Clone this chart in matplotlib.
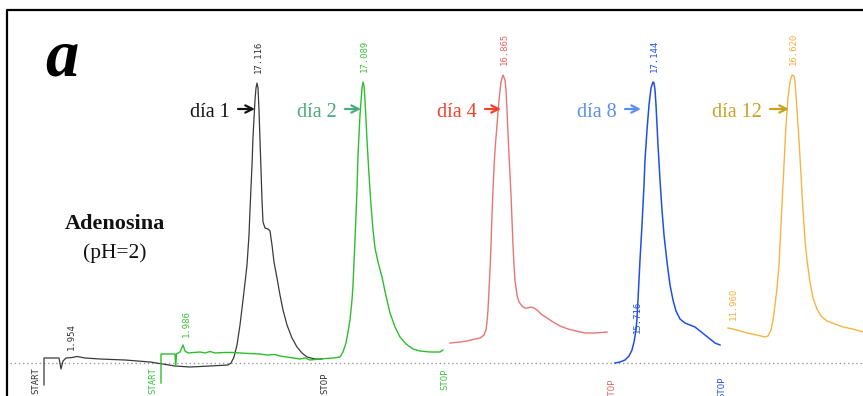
import matplotlib.pyplot as plt
from matplotlib.lines import Line2D

# ============================================================
# Cromatogramas de adenosina (pH=2) a distintos días
# ============================================================

W, H = 863, 396
BASE = 363          # fila (px) de la línea base punteada

# ------------------------------------------------------------
# Datos leídos del registro (x = avance del papel, y = señal)
# ------------------------------------------------------------
dia1_x = [44, 44, 59, 61, 63, 66, 72, 77, 85, 100, 125, 150, 175, 190, 210,
          228, 231, 234, 237, 240, 243, 245, 247, 249, 250, 252, 253, 255, 256,
          257, 258, 259, 260, 261, 262, 263, 265, 268, 270, 272, 274, 277, 280,
          283, 287, 292, 297, 302, 307, 315, 322]
dia1_y = [-22, 5, 5, -6, 2, 5, 5.5, 6.5, 5, 4, 3, 1, -3, -4, -3,
          -2, 0, 6, 18, 38, 63, 80, 98, 128, 153, 198, 226, 263, 275,
          280, 275, 253, 223, 193, 163, 141, 135, 134, 132, 118, 101, 85, 68,
          53, 38, 25, 16, 10, 6, 4, 4]

dia2_x = [161, 161, 175, 175.7, 176.5, 180, 183, 185, 188, 200, 205, 210, 215,
          225, 233, 240, 250, 260, 267, 275, 280, 290, 300, 305, 310, 320, 333,
          340, 343, 346, 348, 350, 352, 353, 355, 357, 358, 360, 362, 363, 364,
          365, 366, 367, 369, 371, 373, 375, 378, 382, 386, 390, 395, 400, 406,
          413, 420, 430, 440, 443]
dia2_y = [-20, 9, 9, -3, 9, 11, 18, 12, 10, 11, 10, 11.5, 10,
          10.5, 10.5, 10, 9.5, 9, 8, 8.5, 7, 5.5, 4, 5, 3, 4, 5,
          6, 11, 20, 31, 43, 63, 78, 123, 173, 208, 248, 275, 281, 277,
          263, 243, 223, 188, 158, 133, 115, 101, 86, 67, 50, 36, 26, 19,
          14, 12, 11, 11, 13]

dia4_x = [450, 460, 467, 475, 480, 484, 486, 487, 488, 489, 490, 491, 492, 493,
          494, 495, 497, 499, 501, 503, 505, 506, 507, 508, 509, 510, 511, 512,
          513, 514, 515, 517, 519, 522, 525, 528, 531, 534, 537, 541, 547, 553,
          560, 568, 576, 585, 595, 607]
dia4_y = [20, 21, 22, 24, 25, 28, 33, 41, 53, 73, 93, 118, 148, 173,
          195, 213, 238, 263, 281, 288, 283, 273, 253, 230, 208, 188, 168, 143,
          118, 98, 83, 68, 61, 57, 55, 55, 56, 55, 53, 49, 45, 41,
          37, 34, 32, 30, 30, 31]

dia8_x = [615, 620, 625, 629, 632, 634, 636, 637, 638, 639, 640, 642, 644, 645,
          647, 649, 651, 653, 654, 655, 656, 657, 658, 660, 662, 664, 667, 670,
          673, 676, 680, 685, 690, 695, 700, 705, 710, 715, 720]
dia8_y = [0, 1, 3, 7, 13, 21, 33, 45, 63, 83, 103, 138, 178, 203,
          233, 258, 275, 281, 280, 273, 258, 238, 218, 183, 153, 128, 101, 78,
          63, 52, 44, 40, 38, 36, 32, 28, 24, 20, 18]

dia12_x = [728, 737, 747, 757, 765, 768, 771, 773, 775, 777, 779, 780, 782, 784,
           786, 788, 790, 792, 794, 795, 796, 797, 799, 801, 803, 805, 807, 810,
           813, 817, 821, 827, 835, 843, 853, 863]
dia12_y = [35, 33, 30, 28, 26, 27, 33, 43, 58, 75, 98, 118, 158, 198,
           238, 265, 281, 288, 287, 281, 268, 253, 223, 188, 153, 123, 103, 81,
           65, 54, 47, 42, 39, 36, 34, 31]

dias = ["día 1", "día 2", "día 4", "día 8", "día 12"]
tiempos_pico = ["17.116", "17.089", "16.865", "17.144", "16.620"]

col_linea = ["#3a3a3a", "#2cbf2c", "#ea7474", "#1f4fe8", "#f5b445"]
col_etiq = ["#333333", "#3cc23c", "#e86464", "#2452e0", "#f0b040"]
col_texto = ["#141414", "#4caa7e", "#f0422c", "#5b8ef0", "#c9a226"]

# otras marcas del integrador: (texto, x, fila inferior, color)
marcas = [("1.954", 71, 350, col_etiq[0]),
          ("1.986", 186, 337, col_etiq[1]),
          ("15.716", 637, 333, col_etiq[3]),
          ("11.960", 733, 320, col_etiq[4])]
# START / STOP: (texto, x, fila superior, color)
start_stop = [("START", 36, 367, col_etiq[0]),
              ("START", 153, 367, col_etiq[1]),
              ("STOP", 325, 373, col_etiq[0]),
              ("STOP", 445, 368, col_etiq[1]),
              ("STOP", 612, 379, col_etiq[2]),
              ("STOP", 722, 377, col_etiq[3])]

# posición de cada rótulo "día n" (x inicio texto, x inicio flecha, x punta)
pos_dias = [(190, 238, 255), (297, 345, 361), (437, 485, 501),
            (577, 625, 641), (712, 770, 789)]


def fila(y):
    # fila de pixel -> unidades de señal
    return BASE - y


fig = plt.figure(figsize=(W / 100, H / 100), dpi=100)
ax = fig.add_axes([0, 0, 1, 1])
ax.set_xlim(0, W)
ax.set_ylim(BASE - H, BASE)
ax.axis("off")

# línea base punteada
ax.axhline(0, xmin=10 / W, xmax=1, color="#9a9a9a", lw=1.0, ls=(0, (1, 2)))

trazas = [(dia1_x, dia1_y), (dia2_x, dia2_y), (dia4_x, dia4_y),
          (dia8_x, dia8_y), (dia12_x, dia12_y)]
grosor = [0.9, 1.0, 1.0, 1.1, 1.0]

for i, (xs, ys) in enumerate(trazas):
    ax.plot(xs, ys, color=col_linea[i], lw=grosor[i], solid_joinstyle="round")

    # tiempo de retención sobre el pico
    k = ys.index(max(ys))
    ax.text(xs[k] + 1, ys[k] + 10, tiempos_pico[i], rotation=90,
            ha="center", va="bottom", fontsize=6.5,
            family="DejaVu Sans Mono", color=col_etiq[i])

    # rótulo del día con flecha
    x0, xa, xb = pos_dias[i]
    ax.text(x0, fila(117), dias[i], ha="left", va="baseline",
            fontsize=14.5, family="Liberation Serif", color=col_texto[i])
    ax.annotate("", xy=(xb, fila(109)), xytext=(xa, fila(109)),
                arrowprops=dict(arrowstyle="->", lw=1.6, color=col_texto[i],
                                mutation_scale=13, shrinkA=0, shrinkB=0))

for txt, x, yb, c in marcas:
    ax.text(x, fila(yb), txt, rotation=90, ha="center", va="bottom",
            fontsize=6.5, family="DejaVu Sans Mono", color=c)

for txt, x, yt, c in start_stop:
    ax.text(x, fila(yt), txt, rotation=90, ha="center", va="top",
            fontsize=6.5, family="DejaVu Sans Mono", color=c)

# textos principales
ax.text(45, fila(75), "a", ha="left", va="baseline", fontsize=48,
        family="Liberation Serif", style="italic", weight="bold", color="black")
ax.text(115, fila(229), "Adenosina", ha="center", va="baseline", fontsize=16,
        family="Liberation Serif", weight="bold", color="#111111")
ax.text(115, fila(258), "(pH=2)", ha="center", va="baseline", fontsize=15.5,
        family="Liberation Serif", color="#111111")

# marco
fig.add_artist(Line2D([7 / W, 7 / W, 1], [0, 1 - 10 / H, 1 - 10 / H],
                      transform=fig.transFigure, color="black", lw=1.6))

plt.savefig("out.png", dpi=100)
plt.close()
